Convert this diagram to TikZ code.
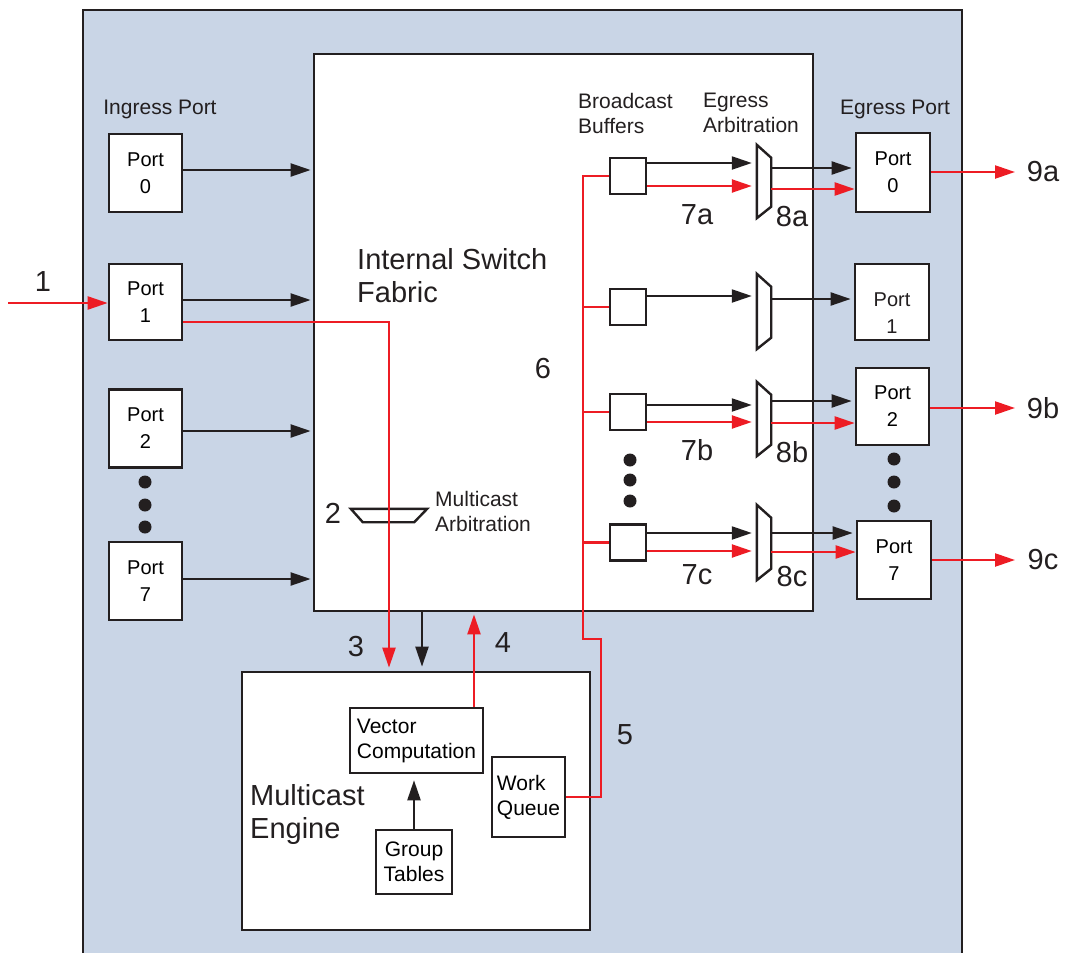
\documentclass[tikz,border=0pt]{standalone}
\usepackage{fontspec}
\setmainfont{Liberation Sans}
\usetikzlibrary{arrows.meta,calc}
\definecolor{bgblue}{RGB}{201,213,230}
\definecolor{ink}{RGB}{35,31,32}
\definecolor{sigred}{RGB}{237,28,36}
\newcommand\myS{\fontsize{21}{25}\selectfont}
\newcommand\myP{\fontsize{20}{27}\selectfont}
\newcommand\myL{\fontsize{29}{33}\selectfont}
\begin{document}
\begin{tikzpicture}[x=1pt,y=-1pt,
  box/.style={draw=ink,line width=2.7pt,fill=white,inner sep=0pt},
  port/.style={box,minimum width=73pt,minimum height=78pt,align=center,font=\myP},
  buf/.style={box,minimum width=36pt,minimum height=36pt},
  muxbox/.style={inner sep=0pt,minimum width=14pt,minimum height=74pt},
  muxshape/.style={draw=ink,line width=2.4pt,fill=white,line join=miter},
  blk/.style={draw=ink,line width=2.2pt,-{Triangle[length=20pt,width=13pt]}},
  redarr/.style={draw=sigred,line width=2.3pt,-{Triangle[length=20pt,width=13pt]}},
  redline/.style={draw=sigred,line width=2.3pt},
  lbl/.style={inner sep=0pt,font=\myS,text=ink,align=left},
  num/.style={inner sep=0pt,font=\myL,text=ink},
  dot/.style={fill=ink}
]
\useasboundingbox (0,0) rectangle (1066,953);
% outer chip area
\fill[bgblue] (83,10) rectangle (962,980);
\draw[ink,line width=2.7pt] (83,980) -- (83,10) -- (962,10) -- (962,980);

% internal switch fabric
\node[box,line width=2.8pt,minimum width=499pt,minimum height=557pt] (fab) at (563.5,332.5) {};
\node[num,anchor=west,align=left] (fabl) at (357,276) {Internal Switch\\Fabric};
\node[num] (n6) at (543,369) {6};

% ingress ports
\node[lbl,anchor=center] (ingl) at (160,109) {Ingress Port};
\node[port] (in0) at (145.5,173) {Port\\0};
\node[port,minimum height=76pt] (in1) at (145.5,302) {Port\\1};
\node[port] (in2) at (145.5,428.5) {Port\\2};
\node[port] (in7) at (145.5,581) {Port\\7};
\fill[dot] (145,482) circle (6.5);
\fill[dot] (145,505) circle (6.5);
\fill[dot] (145,527) circle (6.5);

\draw[blk] ($(in0.east)+(0,-3)$) -- ($(in0.east -| fab.west)+(-2,-3)$);
\draw[blk] ($(in1.east)+(0,-2)$) -- ($(in1.east -| fab.west)+(-2,-2)$);
\draw[blk] ($(in2.east)+(0,2.5)$) -- ($(in2.east -| fab.west)+(-2,2.5)$);
\draw[blk] ($(in7.east)+(0,-2)$) -- ($(in7.east -| fab.west)+(-2,-2)$);

% input 1
\coordinate (src) at (8,303);
\draw[redarr] (src) -- (src -| in1.west);
\node[num] (n1) at (43,282) {1};

% multicast engine
\node[box,minimum width=348pt,minimum height=258pt] (me) at (416,801) {};
\node[num,anchor=west,align=left] (mel) at (250,814) {Multicast\\Engine};
\node[box,line width=2.5pt,minimum width=133pt,minimum height=65pt,align=left,font=\myS] (vc) at (416.5,740.5) {Vector\\Computation};
\node[box,line width=2.5pt,minimum width=73pt,minimum height=80pt,align=left,font=\myS] (wq) at (528.5,797) {Work\\Queue};
\node[box,line width=2.5pt,minimum width=76pt,minimum height=64pt,align=center,font=\myS] (gt) at (414,862) {Group\\Tables};
\draw[blk] (gt.north) -- ($(gt.north |- vc.south)+(0,6)$);

% multicast arbitration
\node[inner sep=0pt,minimum width=76pt,minimum height=13pt] (marb) at (389,515.5) {};
\draw[muxshape] (marb.north west) -- (marb.north east) -- ($(marb.south east)+(-13,0)$) -- ($(marb.south west)+(12,0)$) -- cycle;
\node[lbl,anchor=west] (marbl) at (435,511) {Multicast\\Arbitration};
\node[num] (n2) at (333,513) {2};

% path 1 -> 3
\draw[redarr] ($(in1.east)+(0,20)$) -| ($(me.north)+(-27,-3)$);
\node[num] (n3) at (356,647) {3};
\coordinate (d3) at ($(me.north)+(6,0)$);
\draw[blk] (d3 |- fab.south) -- ($(d3)+(0,-4)$);
\coordinate (u4) at ($(vc.north)+(57.5,0)$);
\draw[redarr] (u4) -- ($(u4 |- fab.south)+(0,2)$);
\node[num] (n4) at (503,643) {4};

% broadcast buffers
\node[lbl,anchor=west] (bbl) at (578,113) {Broadcast\\Buffers};
\node[lbl,anchor=west] (eal) at (703,113) {Egress\\Arbitration};
\node[buf] (b0) at (628,176) {};
\node[buf] (b1) at (628,307) {};
\node[buf] (b2) at (628,412) {};
\node[buf] (b3) at (628,542.5) {};
\fill[dot] (630,460) circle (6.5);
\fill[dot] (630,480) circle (6.5);
\fill[dot] (630,501) circle (6.5);

% path 5 -> 6
\coordinate (jog) at (601,639);
\coordinate (bus) at (583,639);
\draw[redline] (wq.east) -| (jog) -- (bus) |- (b0.west);
\draw[redline] (bus |- b1.west) -- (b1.west);
\draw[redline] (bus |- b2.west) -- (b2.west);
\draw[redline] (bus |- b3.west) -- (b3.west);
\node[num] (n5) at (625,735) {5};

% egress arbitration muxes
\node[muxbox,minimum height=73pt] (m0) at (764,181.5) {};
\node[muxbox,minimum height=75pt] (m1) at (764,311.5) {};
\node[muxbox,minimum height=74pt] (m2) at (764,419) {};
\node[muxbox,minimum height=75pt] (m3) at (764,542.5) {};
\foreach \m in {m0,m1,m2,m3}{
  \draw[muxshape] (\m.north west) -- ($(\m.north east)+(0,13)$) -- ($(\m.south east)+(0,-11.5)$) -- (\m.south west) -- cycle;
}

% egress ports
\node[lbl,anchor=center] (egl) at (895,109) {Egress Port};
\node[port,minimum width=74pt,minimum height=79pt] (o0) at (893,172.5) {Port\\0};
\node[port,minimum width=74pt,minimum height=76pt] (o1) at (892,302) {};
\node[inner sep=0pt,font=\myP,align=center,text=ink] (o1t) at (892,313) {Port\\1};
\node[port,minimum width=73pt,minimum height=77pt] (o2) at (892.5,406.5) {Port\\2};
\node[port,minimum width=74pt,minimum height=78pt] (o7) at (894,560) {Port\\7};
\fill[dot] (894,459) circle (6.5);
\fill[dot] (894,482) circle (6.5);
\fill[dot] (894,506) circle (6.5);

% buffer -> mux
\draw[blk] ($(b0.east)+(0,-13)$) -- ($(b0.east -| m0.west)+(-5,-13)$);
\draw[redarr] ($(b0.east)+(0,10)$) -- ($(b0.east -| m0.west)+(-5,10)$);
\draw[blk] ($(b1.east)+(0,-11)$) -- ($(b1.east -| m1.west)+(-5,-11)$);
\draw[blk] ($(b2.east)+(0,-7)$) -- ($(b2.east -| m2.west)+(-5,-7)$);
\draw[redarr] ($(b2.east)+(0,10)$) -- ($(b2.east -| m2.west)+(-5,10)$);
\draw[blk] ($(b3.east)+(0,-9.5)$) -- ($(b3.east -| m3.west)+(-5,-9.5)$);
\draw[redarr] ($(b3.east)+(0,8.5)$) -- ($(b3.east -| m3.west)+(-5,8.5)$);

% mux -> egress port
\draw[blk] ($(m0.east)+(0,-13.5)$) -- ($(m0.east -| o0.west)+(-3,-13.5)$);
\draw[redarr] ($(m0.east)+(0,7.5)$) -- ($(m0.east -| o0.west)+(0,7.5)$);
\draw[blk] ($(m1.east)+(0,-12.5)$) -- ($(m1.east -| o1.west)+(-3,-12.5)$);
\draw[blk] ($(m2.east)+(0,-18)$) -- ($(m2.east -| o2.west)+(-3,-18)$);
\draw[redarr] ($(m2.east)+(0,4)$) -- ($(m2.east -| o2.west)+(0,4)$);
\draw[blk] ($(m3.east)+(0,-9.5)$) -- ($(m3.east -| o7.west)+(-3,-9.5)$);
\draw[redarr] ($(m3.east)+(0,9.5)$) -- ($(m3.east -| o7.west)+(0,9.5)$);

\node[num] (l7a) at (697,215) {7a};
\node[num] (l8a) at (792,217) {8a};
\node[num] (l7b) at (697,450) {7b};
\node[num] (l8b) at (792,452) {8b};
\node[num] (l7c) at (697,575) {7c};
\node[num] (l8c) at (792,577) {8c};

% outputs
\coordinate (e0) at (1015,172);
\coordinate (e2) at (1015,408);
\coordinate (e7) at (1015,560);
\draw[redarr] (e0 -| o0.east) -- (e0);
\draw[redarr] (e2 -| o2.east) -- (e2);
\draw[redarr] (e7 -| o7.east) -- (e7);
\node[num] (n9a) at (1043,172) {9a};
\node[num] (n9b) at (1043,408) {9b};
\node[num] (n9c) at (1043,560) {9c};
\end{tikzpicture}
\end{document}
